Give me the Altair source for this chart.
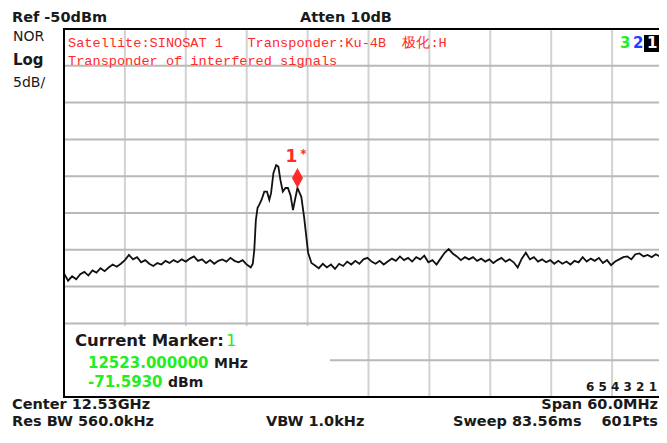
import altair as alt
import pandas as pd

# ---------------- data ----------------
freq_mhz = [
    12500.0, 12500.4, 12500.8, 12501.2, 12501.6, 12502.0, 12502.4, 12502.8, 12503.2, 12503.6,
    12504.0, 12504.4, 12504.8, 12505.2, 12505.6, 12506.0, 12506.4, 12506.8, 12507.2, 12507.6,
    12508.0, 12508.4, 12508.8, 12509.2, 12509.6, 12510.0, 12510.4, 12510.8, 12511.2, 12511.6,
    12512.0, 12512.4, 12512.8, 12513.2, 12513.6, 12514.0, 12514.4, 12514.8, 12515.2, 12515.6,
    12516.0, 12516.4, 12516.8, 12517.2, 12517.6, 12518.0, 12518.4,
    12518.6, 12518.75, 12518.9, 12519.07, 12519.23, 12519.47, 12519.73, 12520.0, 12520.23, 12520.4,
    12520.63, 12520.9, 12521.12, 12521.32, 12521.56, 12521.82, 12522.06, 12522.32, 12522.56, 12522.79,
    12523.0, 12523.38, 12523.65, 12523.88, 12524.05, 12524.38,
    12524.7, 12525.1, 12525.5, 12525.9, 12526.3, 12526.7, 12527.1, 12527.5, 12527.9, 12528.3,
    12528.7, 12529.1, 12529.5, 12529.9, 12530.3, 12530.7, 12531.1, 12531.5, 12531.9, 12532.3,
    12532.7, 12533.1, 12533.5, 12533.9, 12534.3, 12534.7, 12535.1, 12535.5, 12535.9, 12536.3,
    12536.7, 12537.1, 12537.5, 12537.9, 12538.3, 12538.7, 12539.1, 12539.5, 12539.9, 12540.3,
    12540.7, 12541.1, 12541.5, 12541.9, 12542.3, 12542.7, 12543.1, 12543.5, 12543.9, 12544.3,
    12544.7, 12545.1, 12545.5, 12545.9, 12546.3, 12546.7, 12547.1, 12547.5, 12547.9, 12548.3,
    12548.7, 12549.1, 12549.5, 12549.9, 12550.3, 12550.7, 12551.1, 12551.5, 12551.9, 12552.3,
    12552.7, 12553.1, 12553.5, 12553.9, 12554.3, 12554.7, 12555.1, 12555.5, 12555.9, 12556.3,
    12556.7, 12557.1, 12557.5, 12557.9, 12558.3, 12558.7, 12559.1, 12559.5, 12560.0,
]
level_dbm = [
    -83.2, -84.2, -83.6, -84.0, -83.3, -83.0, -83.5, -82.8, -83.1, -82.5,
    -82.9, -82.4, -82.0, -82.3, -81.9, -81.4, -80.7, -81.3, -81.0, -81.7,
    -81.4, -81.9, -82.2, -81.8, -82.0, -81.5, -81.8, -81.4, -81.7, -81.3,
    -81.6, -81.2, -80.9, -81.5, -81.3, -81.8, -81.4, -81.9, -81.5, -81.3,
    -81.6, -81.1, -81.5, -81.7, -81.4, -82.0, -82.4,
    -81.9, -80.0, -76.0, -74.3, -73.9, -73.2, -72.1, -72.1, -73.2, -72.3,
    -69.6, -68.5, -68.7, -70.5, -72.1, -71.6, -71.6, -72.6, -74.6, -73.0,
    -71.6, -72.8, -75.5, -78.3, -80.4, -81.8,
    -82.1, -82.5, -81.9, -82.4, -82.0, -82.6, -81.9, -82.2, -81.6, -82.0,
    -81.5, -81.9, -81.3, -81.1, -81.6, -81.9, -81.5, -82.0, -81.6, -81.2,
    -81.5, -80.9, -81.4, -81.1, -81.6, -81.0, -81.3, -80.8, -81.7, -81.4,
    -82.0, -81.2, -80.4, -79.9, -80.5, -80.9, -81.4, -81.0, -81.3, -81.0,
    -81.5, -81.2, -81.6, -81.3, -81.8, -81.4, -81.1, -81.6, -81.3, -81.7,
    -82.4, -81.2, -80.4, -81.3, -81.0, -81.6, -81.3, -81.7, -81.4, -81.9,
    -81.5, -81.9, -81.6, -82.0, -81.5, -81.7, -81.0, -81.6, -81.2, -81.5,
    -81.1, -81.8, -81.4, -82.1, -81.6, -81.3, -81.0, -80.9, -81.3, -80.6,
    -80.5, -80.9, -80.7, -81.0, -80.6, -80.9, -81.8, -82.1, -82.4,
]
marker_freq = [12523.0]
marker_level = [-71.593]

x_grid = [12506, 12512, 12518, 12524, 12530, 12536, 12542, 12548, 12554]
y_grid = [-95, -90, -85, -80, -75, -70, -65, -60, -55]

# ---------------- layout ----------------
W, H = 609, 368
OX, OY = 64, 29          # page position of the plot origin (8px page margin included)
PAD_L, PAD_T = OX - 8, OY - 8
SVG_W, SVG_H = 651, 421  # whole svg must stay inside the 667x443 window with its 8px margins
PAD_R = SVG_W - PAD_L - W
PAD_B = SVG_H - PAD_T - H

FONT = "DejaVu Sans"
MONO = "Liberation Mono"
RED = "#ff2a2a"
GREEN = "#22ee22"
BLUE = "#2a3cff"
NB = "\u00a0"

trace = pd.DataFrame({"f": freq_mhz, "p": level_dbm})
marker = pd.DataFrame({"f": marker_freq, "p": marker_level})

xs = alt.Scale(domain=[12500, 12560], nice=False, zero=False)
ys = alt.Scale(domain=[-100, -50], nice=False, zero=False)

vgrid = alt.Chart(pd.DataFrame({"gx": x_grid})).mark_rule(color="#d2d2d2", strokeWidth=2).encode(
    x=alt.X("gx:Q", scale=xs, axis=None))
hgrid = alt.Chart(pd.DataFrame({"gy": y_grid})).mark_rule(color="#b8b8b8", strokeWidth=2).encode(
    y=alt.Y("gy:Q", scale=ys, axis=None))

line = alt.Chart(trace).mark_line(color="#111111", strokeWidth=1.8, clip=True).encode(
    x=alt.X("f:Q", scale=xs, axis=None),
    y=alt.Y("p:Q", scale=ys, axis=None),
)

diamond = alt.Chart(marker).mark_point(
    shape="M0,-2L0.55,-1L0,0L-0.55,-1Z", size=400, filled=True, color=RED, opacity=1
).encode(x=alt.X("f:Q", scale=xs), y=alt.Y("p:Q", scale=ys))

m_one = alt.Chart(marker).mark_text(
    text="1", font=FONT, fontSize=17, fontWeight="bold", color=RED, dx=-6, dy=-31
).encode(x=alt.X("f:Q", scale=xs), y=alt.Y("p:Q", scale=ys))
m_star = alt.Chart(marker).mark_text(
    text="*", font=FONT, fontSize=12, fontWeight="bold", color=RED, dx=6, dy=-34
).encode(x=alt.X("f:Q", scale=xs), y=alt.Y("p:Q", scale=ys))


def rect(x1, y1, x2, y2, **kw):
    return alt.Chart(pd.DataFrame({"a": [0]})).mark_rect(**kw).encode(
        x=alt.value(x1 - OX), x2=alt.value(x2 - OX), y=alt.value(y1 - OY), y2=alt.value(y2 - OY))


def label(text, x, y, size=15, color="#1a1a1a", weight="bold", font=FONT, align="left",
          baseline="middle"):
    return alt.Chart(pd.DataFrame({"t": [text]})).mark_text(
        font=font, fontSize=size, fontWeight=weight, color=color, align=align, baseline=baseline
    ).encode(text="t:N", x=alt.value(x - OX), y=alt.value(y - OY))


marker_box = rect(65, 326, 330, 396, color="white")
frame = rect(OX, OY, OX + W, OY + H, fillOpacity=0, stroke="#000000", strokeWidth=2)
num_box = rect(644, 35, 660, 52, color="#000000")

sat_line = "Satellite:SINOSAT 1" + NB * 3 + "Transponder:Ku-4B" + NB * 2 + "极化:H"

labels = [
    label("Ref -50dBm", 12, 22, size=14.5, baseline="alphabetic"),
    label("Atten 10dB", 300, 22, size=14.5, baseline="alphabetic"),
    label("NOR", 13, 37, size=14, weight="normal"),
    label("Log", 13, 60),
    label("5dB/", 13, 83, size=14, weight="normal"),
    label(sat_line, 68, 43, size=13.6, color=RED, weight="normal", font=MONO),
    label("Transponder of interfered signals", 68, 61, size=13.6, color=RED, weight="normal", font=MONO),
    label("3", 620, 43, color=GREEN),
    label("2", 633, 43, color=BLUE),
    label("1", 647, 43, color="white"),
    label("Current Marker:", 75, 341, size=16.5),
    label("1", 226, 341, size=16.5, color=GREEN, weight="normal"),
    label("12523.000000", 88, 363, color=GREEN),
    label("MHz", 214, 364, size=14),
    label("-71.5930", 88, 382, color=GREEN),
    label("dBm", 168, 383, size=14),
    label("6 5 4 3 2 1", 586, 387, size=12),
    label("Center 12.53GHz", 12, 409, size=14.5, baseline="alphabetic"),
    label("Span 60.0MHz", 658, 409, size=14.5, align="right", baseline="alphabetic"),
    label("Res BW 560.0kHz", 12, 426, size=14.5, baseline="alphabetic"),
    label("VBW 1.0kHz", 266, 426, size=14.5, baseline="alphabetic"),
    label("Sweep 83.56ms", 453, 426, size=14.5, baseline="alphabetic"),
    label("601Pts", 658, 426, size=14.5, align="right", baseline="alphabetic"),
]

chart = alt.layer(vgrid, hgrid, line, marker_box, frame, num_box, diamond, m_one, m_star,
                  *labels).properties(
    width=W, height=H,
    autosize=alt.AutoSizeParams(type="none"),
    padding={"left": PAD_L, "top": PAD_T, "right": PAD_R, "bottom": PAD_B},
    background="white",
).configure_view(strokeWidth=0)

chart.save("out.html", embed_options={"renderer": "svg", "actions": False})
